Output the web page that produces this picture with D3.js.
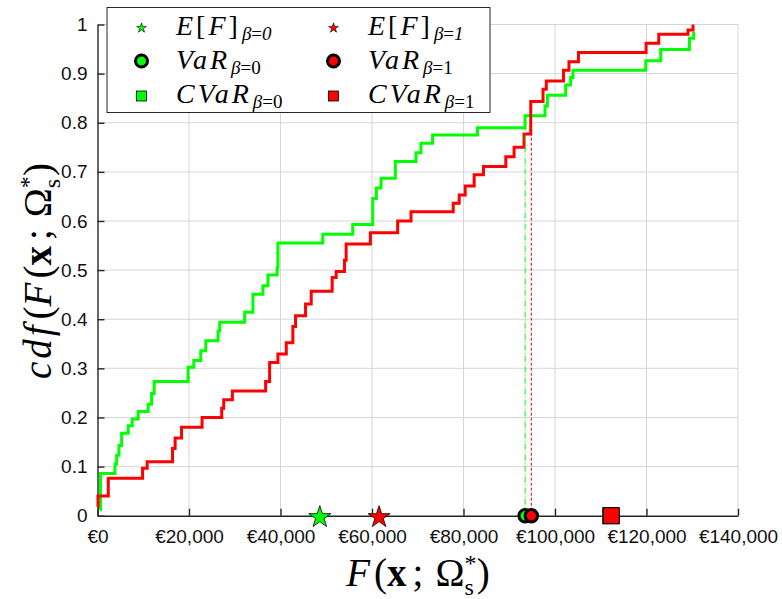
<!DOCTYPE html>
<html>
<head>
<meta charset="utf-8">
<script src="https://cdn.jsdelivr.net/npm/d3@7"></script>
<style>
  body { margin: 0; background: #fff; }
  svg { display: block; }
  .tick text { font-family: "Liberation Sans", Arial, sans-serif; }
  .math { font-family: "Liberation Serif", "DejaVu Serif", serif; }
</style>
</head>
<body>
<svg id="chart" width="782" height="599"></svg>
<script>
// empirical cdf steps, beta = 0 (green) and beta = 1 (red)
const greenX = [545, 654, 3817, 4188, 4689, 5278, 6717, 7590, 8898, 11080, 11821, 12388,
  19804, 21047, 22573, 23664, 26347, 26718, 32170, 33980, 36161, 37252, 39258, 39433,
  49248, 55790, 60152, 60960, 61985, 65103, 69618, 70708, 73238, 83052, 93456, 97818,
  98320, 102333, 103424, 103925, 119845, 123117, 129376, 130314];
const greenP = [0.012, 0.086, 0.105, 0.123, 0.143, 0.168, 0.183, 0.197, 0.212, 0.227, 0.249, 0.273,
  0.302, 0.316, 0.336, 0.356, 0.376, 0.394, 0.414, 0.451, 0.468, 0.49, 0.505, 0.555,
  0.573, 0.593, 0.646, 0.667, 0.687, 0.721, 0.739, 0.758, 0.775, 0.79, 0.814, 0.834,
  0.856, 0.877, 0.892, 0.907, 0.926, 0.949, 0.972, 0.985];

const redX = [44, 109, 2355, 9858, 10861, 16401, 16968, 18364, 22857, 27153, 27590, 29487,
  36750, 37622, 39433, 41265, 42704, 43293, 45474, 46717, 51297, 52170, 53980, 54351,
  59651, 65605, 68527, 77753, 79061, 80370, 82333, 84361, 89247, 91057, 93238, 94699,
  97382, 98101, 101853, 103052, 105124, 119912, 122682, 129072, 130162];
const redP = [0.018, 0.04, 0.076, 0.0965, 0.11, 0.137, 0.158, 0.18, 0.2, 0.219, 0.236, 0.254,
  0.273, 0.312, 0.329, 0.352, 0.385, 0.407, 0.431, 0.457, 0.485, 0.497, 0.52, 0.553,
  0.576, 0.6, 0.619, 0.636, 0.653, 0.671, 0.694, 0.711, 0.731, 0.75, 0.777, 0.843,
  0.868, 0.885, 0.907, 0.924, 0.943, 0.962, 0.98, 0.989, 1.0];

// risk measures
const expected = [48594, 61546];   // E[F] beta=0, beta=1
const valueAtRisk = [93475, 94830];
const condVaR = [112200, 112300];
const varLevel = [0.8, 0.843];

const xTicks = [0, 20000, 40000, 60000, 80000, 100000, 120000, 140000];
const yTicks = [0, 0.1, 0.2, 0.3, 0.4, 0.5, 0.6, 0.7, 0.8, 0.9, 1];

const GREEN = "#00ff00", RED = "#ff0000";

const svg = d3.select("#chart");
const x = d3.scaleLinear().domain([0, 140000]).range([97.5, 738]);
const y = d3.scaleLinear().domain([0, 1]).range([515.7, 24.5]);

// grid
const grid = svg.append("g");
grid.selectAll(".vg").data(xTicks.slice(1)).enter().append("line")
  .attr("x1", d => x(d)).attr("x2", d => x(d))
  .attr("y1", y(0)).attr("y2", y(1))
  .style("stroke", "#d6d6d6").style("stroke-width", 1);
grid.selectAll(".hg").data(yTicks.slice(1)).enter().append("line")
  .attr("x1", x(0)).attr("x2", x(140000))
  .attr("y1", d => y(d)).attr("y2", d => y(d))
  .style("stroke", "#d6d6d6").style("stroke-width", 1);

// axes
const euro = d => "€" + d3.format(",")(d);
const xAxis = svg.append("g").attr("transform", `translate(0,${y(0)})`)
  .call(d3.axisBottom(x).tickValues(xTicks).tickFormat(euro).tickSizeInner(-7).tickSizeOuter(0).tickPadding(14));
const yAxis = svg.append("g").attr("transform", `translate(${x(0)},0)`)
  .call(d3.axisLeft(y).tickValues(yTicks).tickFormat(d3.format("")).tickSizeInner(-7).tickSizeOuter(0).tickPadding(10));
[xAxis, yAxis].forEach(a => {
  a.select(".domain").style("stroke", "#262626").style("stroke-width", 1.4);
  a.selectAll(".tick line").style("stroke", "#262626").style("stroke-width", 1.4);
  a.selectAll(".tick text").style("font-size", "19px").style("fill", "#111");
});

// cdf curves
const stair = d3.line().x(d => x(d[0])).y(d => y(d[1])).curve(d3.curveStepAfter);
const curves = [
  { xs: greenX, ps: greenP, color: GREEN },
  { xs: redX, ps: redP, color: RED }
];
curves.forEach(c => {
  svg.append("path")
    .datum(c.xs.map((v, i) => [v, c.ps[i]]))
    .attr("d", stair)
    .style("fill", "none").style("stroke", c.color).style("stroke-width", 3);
});

// VaR lines
svg.append("line")
  .attr("x1", x(valueAtRisk[0])).attr("x2", x(valueAtRisk[0]))
  .attr("y1", y(0)).attr("y2", y(varLevel[0]))
  .style("stroke", GREEN).style("stroke-width", 1).style("stroke-dasharray", "6,2,1,2");
svg.append("line")
  .attr("x1", x(valueAtRisk[1])).attr("x2", x(valueAtRisk[1]))
  .attr("y1", y(0)).attr("y2", y(varLevel[1]))
  .style("stroke", RED).style("stroke-width", 1).style("stroke-dasharray", "3,2");

// markers
const colors = [GREEN, RED];
const starPath = d3.symbol(d3.symbolStar, 150)();
const smallStar = d3.symbol(d3.symbolStar, 30)();
condVaR.forEach((v, i) => {
  svg.append("rect")
    .attr("x", x(v) - 8).attr("y", y(0) - 8).attr("width", 16).attr("height", 16)
    .style("fill", colors[i]).style("stroke", "#000").style("stroke-width", 1);
});
valueAtRisk.forEach((v, i) => {
  svg.append("circle")
    .attr("cx", x(v)).attr("cy", y(0)).attr("r", 6.2)
    .style("fill", colors[i]).style("stroke", "#000").style("stroke-width", 3);
});
expected.forEach((v, i) => {
  svg.append("path").attr("d", starPath)
    .attr("transform", `translate(${x(v)},${y(0) + 1.5})`)
    .style("fill", colors[i]).style("stroke", "#000").style("stroke-width", 0.8);
});

// axis labels: F(x ; Ω*_s)
function mathLabel(t, withCdf) {
  if (withCdf) {
    t.append("tspan").style("font-style", "italic").attr("letter-spacing", 3).text("cdf");
    t.append("tspan").attr("dx", 3).text("(");
  }
  t.append("tspan").style("font-style", "italic").text("F");
  t.append("tspan").attr("dx", 4).text("(");
  t.append("tspan").style("font-weight", "bold").text("x");
  t.append("tspan").attr("dx", 6).text(";");
  t.append("tspan").attr("dx", 12).text("Ω");
  t.append("tspan").attr("dy", -15).style("font-size", "24px").text("*");
  t.append("tspan").attr("dx", -12).attr("dy", 24).style("font-size", "24px").text("s");
  t.append("tspan").attr("dx", 3).attr("dy", -9).text(")");
}
const xl = svg.append("text").attr("class", "math")
  .attr("x", 418).attr("y", 586).attr("text-anchor", "middle").style("font-size", "39px");
mathLabel(xl, false);

const yl = svg.append("text").attr("class", "math")
  .attr("transform", "translate(51,271) rotate(-90)")
  .attr("text-anchor", "middle").style("font-size", "39px");
mathLabel(yl, true);

// legend
const lg = svg.append("g");
lg.append("rect").attr("x", 107).attr("y", 7.5).attr("width", 383).attr("height", 105)
  .style("fill", "#fff").style("stroke", "#262626").style("stroke-width", 1);
const rowsY = [27, 61, 95];
const colMarkX = [141.5, 333.5];
const colTextX = [176, 368];
const legendItems = [
  { row: 0, col: 0, kind: "star", color: GREEN, main: ["E", "[", "F", "]"], sub: "0", subItalic: true },
  { row: 0, col: 1, kind: "star", color: RED, main: ["E", "[", "F", "]"], sub: "1", subItalic: true },
  { row: 1, col: 0, kind: "circle", color: GREEN, main: ["V", "a", "R"], sub: "0" },
  { row: 1, col: 1, kind: "circle", color: RED, main: ["V", "a", "R"], sub: "1" },
  { row: 2, col: 0, kind: "square", color: GREEN, main: ["C", "V", "a", "R"], sub: "0" },
  { row: 2, col: 1, kind: "square", color: RED, main: ["C", "V", "a", "R"], sub: "1" }
];
legendItems.forEach(it => {
  const mx = colMarkX[it.col], my = rowsY[it.row];
  if (it.kind === "star") {
    lg.append("path").attr("d", smallStar).attr("transform", `translate(${mx},${my + 1})`)
      .style("fill", it.color).style("stroke", "#000").style("stroke-width", 0.6);
  } else if (it.kind === "circle") {
    lg.append("circle").attr("cx", mx).attr("cy", my).attr("r", 6)
      .style("fill", it.color).style("stroke", "#000").style("stroke-width", 3);
  } else {
    lg.append("rect").attr("x", mx - 5).attr("y", my - 4).attr("width", 10).attr("height", 10)
      .style("fill", it.color).style("stroke", "#000").style("stroke-width", 0.8);
  }
  const t = lg.append("text").attr("class", "math")
    .attr("x", colTextX[it.col]).attr("y", my + 8).style("font-size", "28px");
  it.main.forEach((s, k) => {
    const upright = s === "[" || s === "]";
    t.append("tspan").style("font-style", upright ? "normal" : "italic")
      .attr("dx", k === 0 ? 0 : 3).text(s);
  });
  // subscript beta = 0/1, flat tspans
  t.append("tspan").attr("dx", 4).attr("dy", 5).style("font-size", "19px")
    .style("font-style", "italic").text("β");
  t.append("tspan").style("font-size", "19px").text("=");
  t.append("tspan").style("font-size", "19px")
    .style("font-style", it.subItalic ? "italic" : "normal").text(it.sub);
});
</script>
</body>
</html>
